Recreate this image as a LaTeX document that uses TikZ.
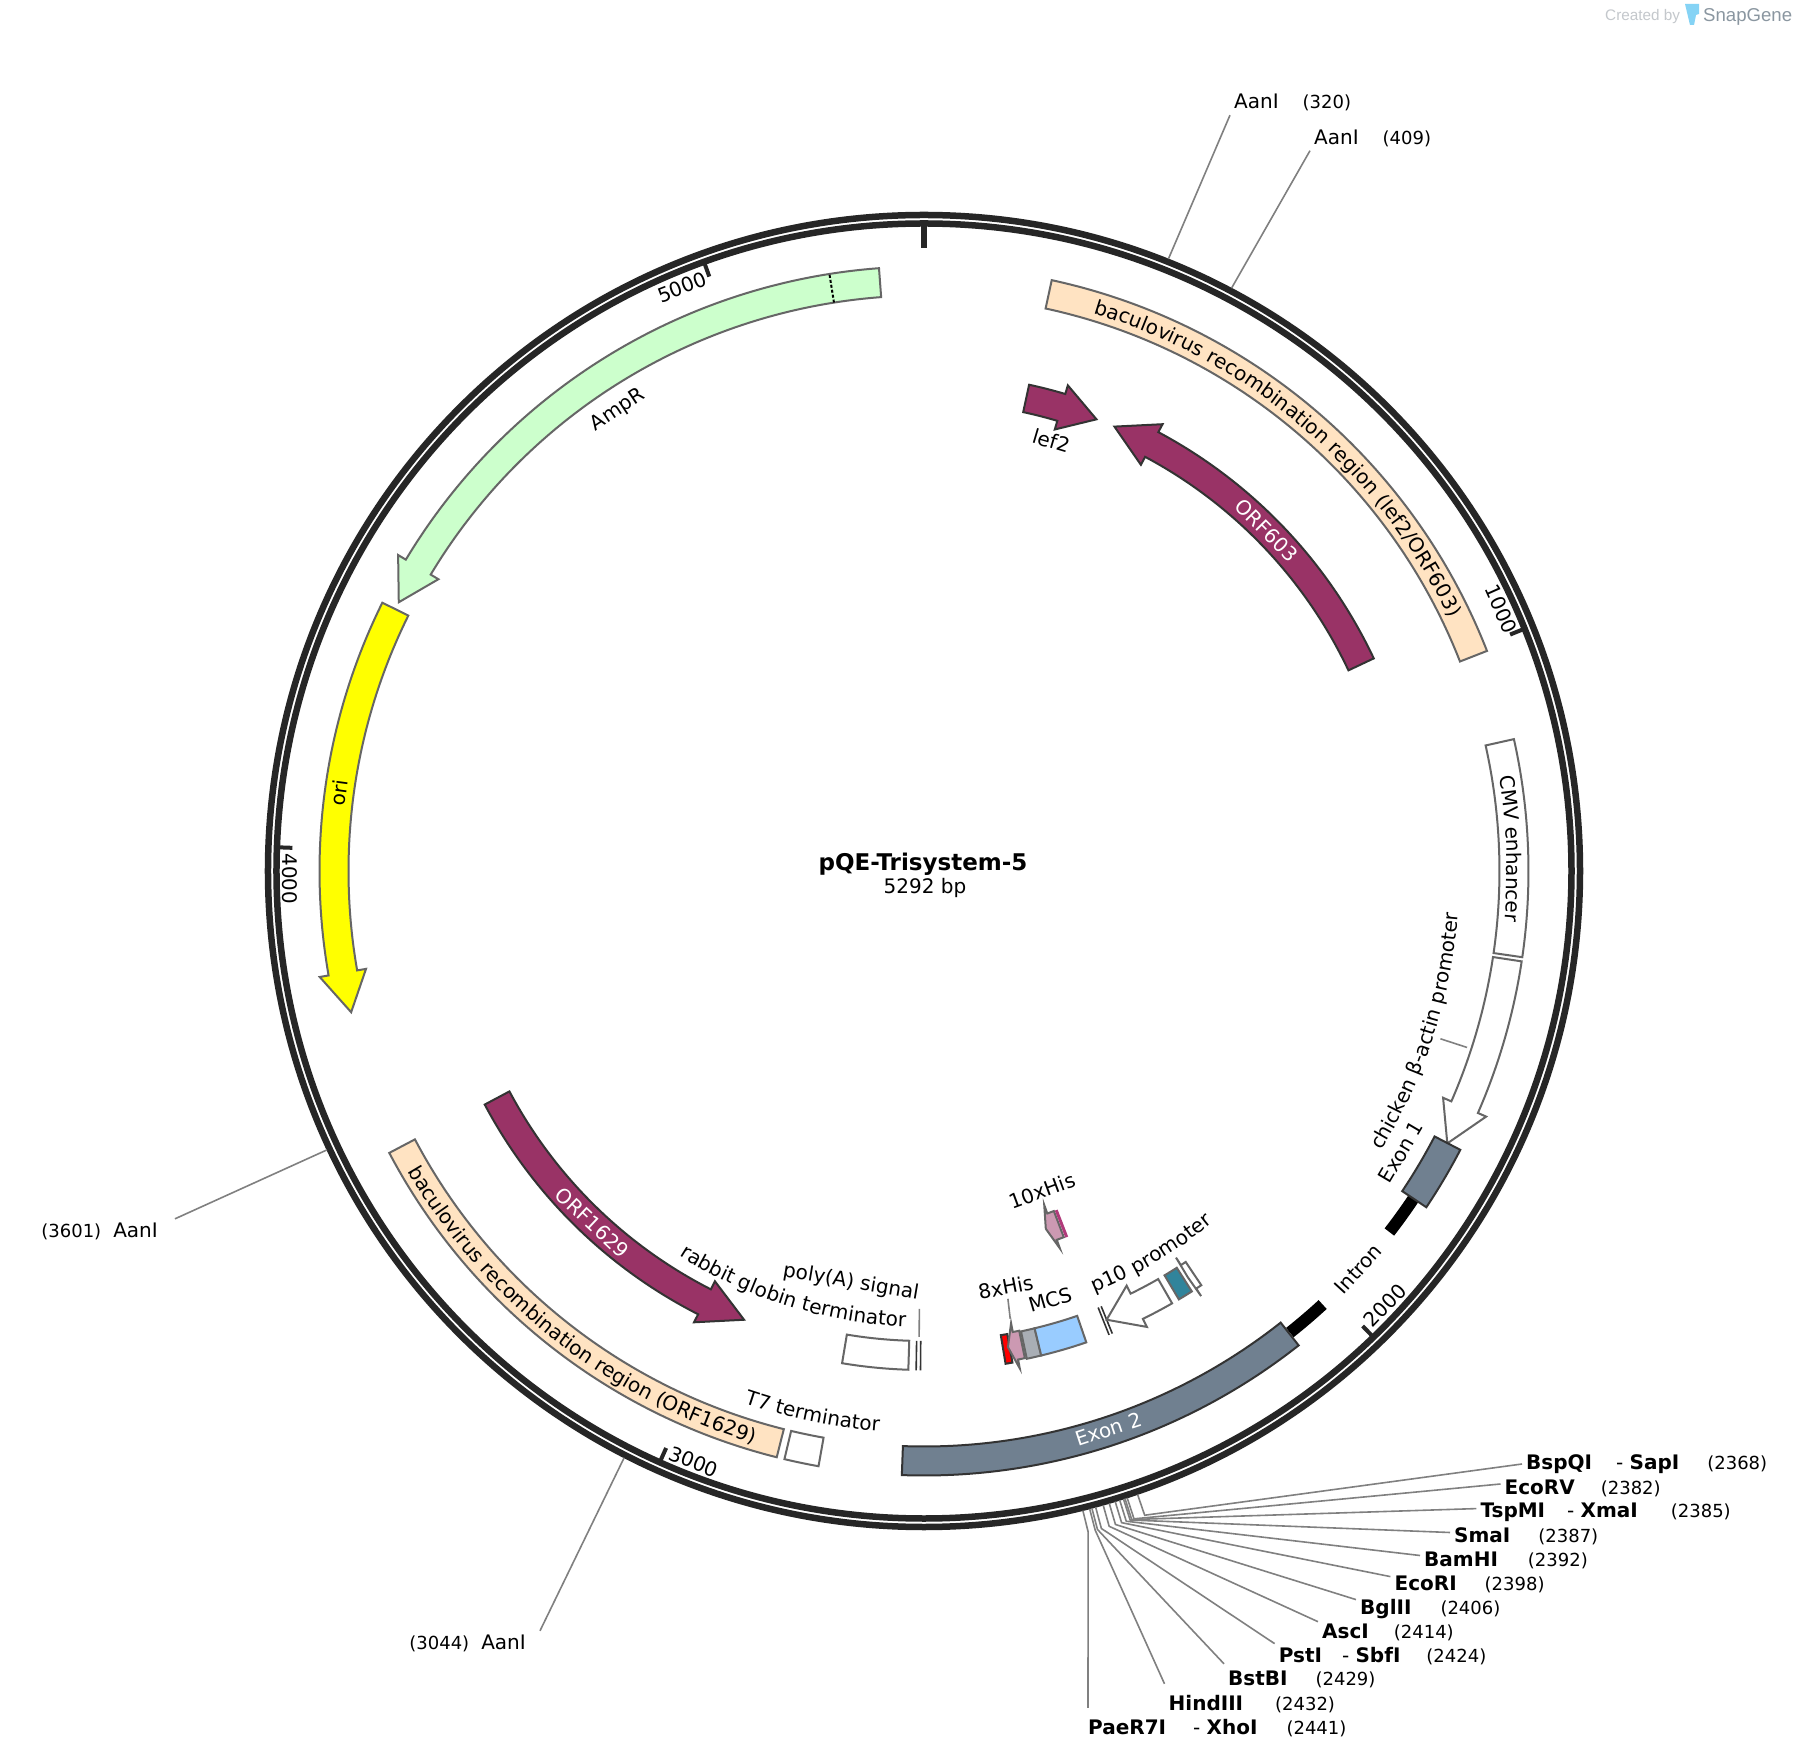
\documentclass[tikz,border=0pt]{standalone}
\usepackage{fontspec}
\setmainfont{DejaVu Sans}
\newfontfamily\logofont{Liberation Sans}
\usepackage{xcolor}
\usetikzlibrary{decorations.text}
\definecolor{ringgray}{HTML}{262626}
\definecolor{edgegray}{HTML}{666666}
\definecolor{darkedge}{HTML}{333333}
\definecolor{leadgray}{HTML}{808080}
\definecolor{ampgreen}{HTML}{CCFFCC}
\definecolor{oriyellow}{HTML}{FFFF00}
\definecolor{bacpeach}{HTML}{FFE3C2}
\definecolor{orfpurple}{HTML}{993366}
\definecolor{exonslate}{HTML}{708090}
\definecolor{mcsblue}{HTML}{99CCFF}
\definecolor{tagpink}{HTML}{CC99B2}
\definecolor{tagred}{HTML}{FF0000}
\definecolor{tagmagenta}{HTML}{B03A7A}
\definecolor{linkgray}{HTML}{A9AEB5}
\definecolor{p10teal}{HTML}{31849B}
\definecolor{logoblue}{HTML}{85D3F5}
\definecolor{logogray}{HTML}{8A96A0}
\definecolor{logolight}{HTML}{C4C8CC}
\newcommand{\featfont}{\fontsize{20}{24}\selectfont}
\newcommand{\posfont}{\fontsize{18}{22}\selectfont}
\tikzstyle{ring} = [draw=ringgray, line width=6.5pt]
\tikzstyle{tick} = [draw=ringgray, line width=4pt]
\tikzstyle{feature} = [draw=edgegray, fill=white, line width=2pt]
\tikzstyle{strong} = [draw=darkedge, line width=2pt]
\tikzstyle{leader} = [draw=leadgray, line width=1.6pt]
\tikzstyle{intron} = [draw=black, line width=12pt]
\tikzstyle{sliver} = [draw=darkedge, line width=1.6pt]
\tikzstyle{txt} = [font=\featfont, inner sep=4pt]
\tikzstyle{whitetxt} = [txt, text=white]
\tikzstyle{enzyme} = [txt, anchor=west]
\newcommand{\arcbox}[5][feature]{
  \draw[#1] (#4:#3) arc[start angle=#4, end angle=#5, radius=#3] -- (#5:#2)
    arc[start angle=#5, end angle=#4, radius=#2] -- cycle;
}
\newcommand{\arcarrow}[6][feature]{
  \draw[#1] ({#4}:{#2+#3}) arc[start angle=#4, end angle=#5, radius=#2+#3]
    -- ({#5}:{#2+#3+9}) -- ({#6}:#2) -- ({#5}:{#2-#3-9}) -- ({#5}:{#2-#3})
    arc[start angle=#5, end angle=#4, radius=#2-#3] -- cycle;
}
\newcommand{\cwtext}[4]{
  \path[decorate, decoration={text along path, text align=center, text={|\featfont|#4}}]
    ({#2+#3}:#1) arc[start angle=#2+#3, end angle=#2-#3, radius=#1];
}
\newcommand{\ccwtext}[4]{
  \path[decorate, decoration={text along path, text align=center, text={|\featfont|#4}}]
    ({#2-#3}:#1) arc[start angle=#2-#3, end angle=#2+#3, radius=#1];
}
\begin{document}
\begin{tikzpicture}[x=1pt, y=1pt]
  \useasboundingbox[fill=white] (-924,-889) rectangle (874,871);

  \draw[ring] (0,0) circle (656);
  \draw[ring] (0,0) circle (647.5);
  \draw[ring] (90:647) -- (90:623);
  \draw[tick] (21.97:647) -- (21.97:632);
  \draw[tick] (-46.05:647) -- (-46.05:632);
  \draw[tick] (-114.08:647) -- (-114.08:632);
  \draw[tick] (177.9:647) -- (177.9:632);
  \draw[tick] (109.86:647) -- (109.86:632);
  \node[txt, rotate=-66] (tick1000) at (24.4:634) {1000};
  \node[txt, rotate=46.7] (tick2000) at (-43.3:633.5) {2000};
  \node[txt, rotate=-21.3] (tick3000) at (-111.3:634) {3000};
  \node[txt, rotate=-89.3] (tick4000) at (180.7:634) {4000};
  \node[txt, rotate=21] (tick5000) at (112.5:632) {5000};

  \arcarrow[feature, fill=ampgreen]{590}{14.5}{94.27}{149}{152.9}
  \draw[black, line width=2pt, dash pattern=on 3pt off 2pt] (99:575.5) -- (99:604.5);
  \arcarrow[feature, fill=oriyellow]{590}{14.5}{153.65}{189.95}{193.85}
  \arcbox[feature, fill=bacpeach]{575.5}{604.5}{77.8}{21.35}
  \arcbox[feature, fill=bacpeach]{575.5}{604.5}{-152.2}{-104.1}
  \arcbox{575.5}{604.5}{12.6}{-8.2}
  \arcarrow{590}{14.5}{-8.6}{-23.6}{-27.5}
  \arcbox{575.5}{604.5}{-103.35}{-100.05}
  \draw[intron] (-33.8:589) arc[start angle=-33.8, end angle=-37.8, radius=589];
  \draw[intron] (-47.4:589) arc[start angle=-47.4, end angle=-51.6, radius=589];
  \arcbox[strong, fill=exonslate]{575.5}{604.5}{-27.47}{-33.8}
  \arcbox[strong, fill=exonslate]{575.5}{604.5}{-51.7}{-92.1}

  \arcarrow[strong, fill=orfpurple]{483.5}{14}{25.3}{61.9}{66.8}
  \arcarrow[strong, fill=orfpurple]{483.5}{14}{77.8}{73.5}{69.1}
  \arcarrow[strong, fill=orfpurple]{483.5}{14}{-152}{-117}{-111.85}

  \arcbox{470}{499}{-91.8}{-99.45}
  \draw[sliver] (-90.9:470) -- (-90.9:499.5);
  \draw[sliver] (-90.4:470) -- (-90.4:499.5);
  \arcbox[feature, fill=tagred, draw=darkedge]{470.5}{499.5}{-79.8}{-80.6}
  \arcarrow[feature, fill=tagpink]{483.5}{14}{-78.3}{-79.1}{-80}
  \arcbox[feature, fill=linkgray]{470.5}{498.5}{-76.4}{-78.1}
  \arcbox[feature, fill=mcsblue]{470.5}{498.5}{-71}{-76.4}
  \draw[sliver] (-68.25:470) -- (-68.25:499.5);
  \draw[sliver] (-67.85:470) -- (-67.85:499.5);
  \arcarrow{484.5}{14}{-60.15}{-63.95}{-67.85}
  \arcbox[feature, fill=p10teal]{470.5}{498.5}{-59.25}{-57.5}
  \arcarrow{484.5}{14}{-56.2}{-56.9}{-57}
  \arcarrow[feature, fill=tagpink]{378}{14}{-69.1}{-70.2}{-71.2}
  \draw[tagmagenta, line width=3pt] (-68.7:364) -- (-68.7:393);

  \node[font=\bfseries\fontsize{23}{27}\selectfont, inner sep=0pt] (plasmid) at (-1,7) {pQE-Trisystem-5};
  \node[txt, below=-1pt, xshift=2pt] (size) at (plasmid.south) {5292 bp};

  \cwtext{583}{49.4}{36}{baculovirus recombination region (lef2/ORF603)}
  \ccwtext{597}{-128.2}{36}{baculovirus recombination region (ORF1629)}
  \cwtext{583}{2.2}{22}{CMV enhancer}
  \ccwtext{536}{-18}{30}{chicken β-actin promoter}
  \ccwtext{456}{-107.4}{30}{rabbit globin terminator}
  \ccwtext{562}{-101.6}{20}{T7 terminator}
  \ccwtext{455}{-59.3}{20}{p10 promoter}
  \node[txt, rotate=33.6] (ampr) at (123.6:553) {AmpR};
  \node[txt, rotate=82.4] (ori) at (172.4:590) {ori};
  \node[whitetxt, rotate=-45.2] (orf603) at (44.8:483) {ORF603};
  \node[whitetxt, rotate=-43.3] (orf1629) at (-133.3:483.5) {ORF1629};
  \node[whitetxt, rotate=18.3] (exon2) at (-71.7:588) {Exon 2};
  \node[txt, rotate=-16.5] (lef2) at (73.5:448.5) {lef2};
  \node[txt, rotate=20.3] (his10) at (-69.7:341) {10xHis};
  \node[txt, rotate=11] (his8) at (-78.9:424) {8xHis};
  \node[txt, rotate=16.4] (mcs) at (-73.6:447) {MCS};
  \node[txt, rotate=47.5] (intronlabel) at (-42.5:589) {Intron};
  \node[txt, rotate=59.5] (exon1) at (-30.5:553.6) {Exon 1};
  \node[txt, rotate=-9.5] (polya) at (-100.06:418) {poly(A) signal};

  \coordinate (his8end) at (-79.1:456);
  \coordinate (polyaend) at (-90.6:466);
  \coordinate (polyastart) at (-90.6:438);
  \draw[leader] (his8.south) -- (his8end);
  \draw[leader] (polyastart) -- (polyaend);
  \draw[leader] (-18:543) -- (-18:571);

  \node[enzyme] (aan320) at (306,768.5) {AanI\hspace{24pt}{\posfont(320)}};
  \node[enzyme] (aan409) at (386,733) {AanI\hspace{24pt}{\posfont(409)}};
  \node[txt, anchor=east] (aan3601) at (-762,-360.5) {{\posfont(3601)}\hspace{12pt}AanI};
  \node[txt, anchor=east] (aan3044) at (-394,-772.5) {{\posfont(3044)}\hspace{12pt}AanI};
  \draw[leader] (68.23:659) -- (aan320.south west);
  \draw[leader] (62.18:659) -- (aan409.south west);
  \draw[leader] (-154.96:659) -- ([xshift=13pt]aan3601.north east);
  \draw[leader] (-117.07:659) -- ([xshift=10pt]aan3044.north east);

  \node[enzyme] (bspqi) at (598,-593) {\textbf{BspQI}\hspace{24pt}- \textbf{SapI}\hspace{28pt}{\posfont(2368)}};
  \node[enzyme] (ecorv) at (576.5,-617) {\textbf{EcoRV}\hspace{26pt}{\posfont(2382)}};
  \node[enzyme] (tspmi) at (552.4,-641.6) {\textbf{TspMI}\hspace{22pt}- \textbf{XmaI}\hspace{33pt}{\posfont(2385)}};
  \node[enzyme] (smai) at (526,-665.5) {\textbf{SmaI}\hspace{28pt}{\posfont(2387)}};
  \node[enzyme] (bamhi) at (496,-689.5) {\textbf{BamHI}\hspace{30pt}{\posfont(2392)}};
  \node[enzyme] (ecori) at (466.4,-713.6) {\textbf{EcoRI}\hspace{28pt}{\posfont(2398)}};
  \node[enzyme] (bglii) at (432,-737.6) {\textbf{BglII}\hspace{29pt}{\posfont(2406)}};
  \node[enzyme] (asci) at (394,-761.7) {\textbf{AscI}\hspace{25pt}{\posfont(2414)}};
  \node[enzyme] (psti) at (350.6,-784.6) {\textbf{PstI}\hspace{20pt}- \textbf{SbfI}\hspace{26pt}{\posfont(2424)}};
  \node[enzyme] (bstbi) at (300,-808.8) {\textbf{BstBI}\hspace{28pt}{\posfont(2429)}};
  \node[enzyme] (hind) at (240.5,-832.8) {\textbf{HindIII}\hspace{32pt}{\posfont(2432)}};
  \node[enzyme] (paer) at (160,-856.9) {\textbf{PaeR7I}\hspace{27pt}- \textbf{XhoI}\hspace{29pt}{\posfont(2441)}};
  \draw[leader] (-71.09:659) -- (-71.09:681) -- (bspqi.west);
  \draw[leader] (-72.04:659) -- (-72.04:681) -- ([yshift=4pt]ecorv.west);
  \draw[leader] (-72.24:659) -- (-72.24:681) -- ([yshift=4pt]tspmi.west);
  \draw[leader] (-72.38:659) -- (-72.38:681) -- ([yshift=4pt]smai.west);
  \draw[leader] (-72.72:659) -- (-72.72:681) -- ([yshift=5pt]bamhi.west);
  \draw[leader] (-73.13:659) -- (-73.13:681) -- ([yshift=8pt]ecori.west);
  \draw[leader] (-73.67:659) -- (-73.67:681) -- ([yshift=9pt]bglii.west);
  \draw[leader] (-74.22:659) -- (-74.22:681) -- ([yshift=11pt]asci.west);
  \draw[leader] (-74.90:659) -- (-74.90:681) -- ([yshift=12pt]psti.west);
  \draw[leader] (-75.24:659) -- (-75.24:681) -- ([yshift=16pt]bstbi.west);
  \draw[leader] (-75.44:659) -- (-75.44:681) -- ([yshift=20pt]hind.west);
  \draw[leader] (-76.05:659) -- (-76.05:681) -- ([xshift=4pt,yshift=20pt]paer.west);

  \node[anchor=west, inner sep=0pt, text=logolight, font=\logofont\fontsize{15.3}{18}\selectfont] (created) at (681,854) {Created by};
  \node[anchor=west, inner sep=0pt, text=logogray, font=\logofont\fontsize{18.6}{22}\selectfont] (snapgene) at (779,854) {SnapGene};
  \fill[logoblue] (761,867) -- (775,867) -- (775,857) -- (772,856) -- (770,846) -- (766,846) -- cycle;
\end{tikzpicture}
\end{document}
